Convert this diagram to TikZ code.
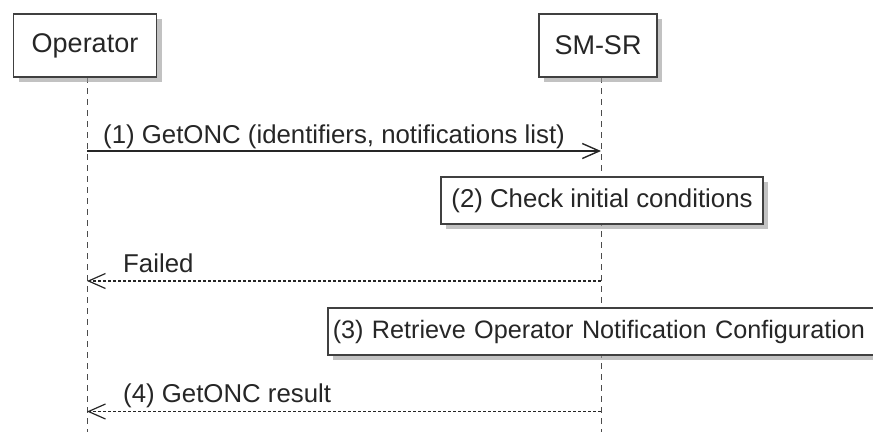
\documentclass[tikz,border=0pt]{standalone}
\usepackage{fontspec}
\setmainfont{Liberation Sans}
\usetikzlibrary{arrows.meta,shadows}
\begin{document}
\begin{tikzpicture}[x=1pt, y=-1pt, >={Straight Barb[length=17pt,width=15pt]},
  every node/.style={font=\fontsize{25.8}{30}\selectfont, text=black!85},
  box/.style={draw=black!75, line width=1.6pt, fill=white, inner sep=0pt,
    drop shadow={shadow xshift=5pt, shadow yshift=-5pt, fill=black!40, opacity=0.6}},
  party/.style={box, minimum height=63pt, font=\fontsize{27}{32}\selectfont},
  note/.style={box, minimum height=47pt},
  life/.style={black!70, line width=1pt, dash pattern=on 6pt off 5pt},
  msg/.style={black!85, line width=1.4pt},
  reply/.style={msg, line width=1.2pt, dash pattern=on 3pt off 2pt},
  lbl/.style={anchor=base west, inner sep=0pt}]
  \useasboundingbox (0,0) rectangle (873,432);
  \clip (0,0) rectangle (873,432);
  \coordinate (optop) at (87,77);   \coordinate (opbot) at (87,432);
  \coordinate (srtop) at (601,77);  \coordinate (srbot) at (601,432);
  \draw[life] (optop) -- (opbot);
  \draw[life] (srtop) -- (srbot);
  \node[party, minimum width=143pt] (op) at (85,45.5) {Operator};
  \node[party, minimum width=118pt] (sr) at (598,45.5) {SM-SR};
  \coordinate (op1) at (87,151);    \coordinate (sr1) at (601,151);
  \coordinate (op2) at (87,281);    \coordinate (sr2) at (601,281);
  \coordinate (op4) at (87,411.5);  \coordinate (sr4) at (601,411.5);
  \draw[msg, ->] (op1) -- (sr1);
  \node[lbl] (l1) at ([xshift=16pt, yshift=8pt]op1) {(1) GetONC (identifiers, notifications list)};
  \node[note, minimum width=322pt] (chk) at (602,200.5) {(2) Check initial conditions};
  \draw[reply, ->] (sr2) -- (op2);
  \node[lbl] (l2) at ([xshift=36pt, yshift=9pt]op2) {Failed};
  \node[note, anchor=west, text width=556pt, inner xsep=5pt, align=left,
    font=\fontsize{25.2}{30}\selectfont] (ret) at (327,331.5)
    {(3) Retrieve Operator Notification Configuration};
  \draw[reply, ->] (sr4) -- (op4);
  \node[lbl] (l4) at ([xshift=36pt, yshift=9.5pt]op4) {(4) GetONC result};
\end{tikzpicture}
\end{document}
